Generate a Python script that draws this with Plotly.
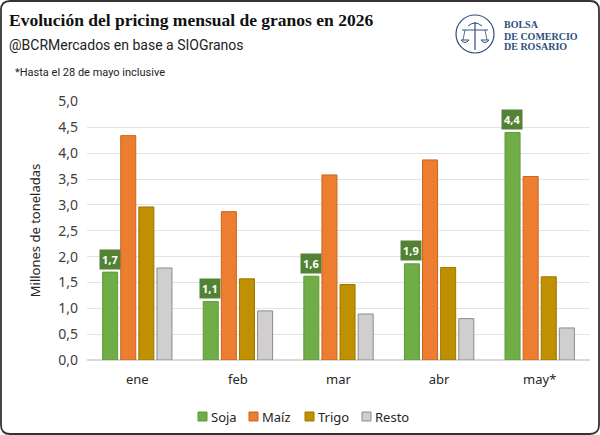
import plotly.graph_objects as go

meses = ["ene", "feb", "mar", "abr", "may*"]
soja = [1.70, 1.13, 1.62, 1.86, 4.40]
maiz = [4.34, 2.87, 3.58, 3.87, 3.55]
trigo = [2.96, 1.57, 1.46, 1.79, 1.61]
resto = [1.78, 0.95, 0.89, 0.80, 0.62]
soja_labels = ["1,7", "1,1", "1,6", "1,9", "4,4"]
logo_lines = ["BOLSA", "DE COMERCIO", "DE ROSARIO"]

W, H = 600, 435
L, R, T, B = 87, 10, 101, 75
PW, PH = W - L - R, H - T - B

def px(x):
    return (x - L) / PW

def py(y):
    return 1 - (y - T) / PH

FONT = "Noto Sans"
series = [
    ("Soja", soja, "#70AD47", "#5E9A38"),
    ("Maíz", maiz, "#ED7D31", "#C9651F"),
    ("Trigo", trigo, "#BF9000", "#9E7700"),
    ("Resto", resto, "#D0CECE", "#8C8C8C"),
]

fig = go.Figure()
for name, vals, fill, line in series:
    fig.add_trace(go.Bar(
        name=name, x=meses, y=vals,
        marker=dict(color=fill, line=dict(color=line, width=1)),
        hoverinfo="skip", showlegend=False,
    ))

ann = []
for i, (v, lab) in enumerate(zip(soja, soja_labels)):
    ann.append(dict(
        x=i - 0.275, y=v, xref="x", yref="y", text="<b>" + lab + "</b>",
        showarrow=False, yshift=13, bgcolor="#548235",
        font=dict(family=FONT, size=11, color="white"),
        borderpad=2,
    ))

# titles
ann += [
    dict(x=px(7), y=py(20), xref="paper", yref="paper", xanchor="left", yanchor="middle",
         text="<b>Evolución del pricing mensual de granos en 2026</b>", showarrow=False,
         font=dict(family="Liberation Serif", size=17.5, color="#111111")),
    dict(x=px(7), y=py(45), xref="paper", yref="paper", xanchor="left", yanchor="middle",
         text="@BCRMercados en base a SIOGranos", showarrow=False,
         font=dict(family="Roboto", size=14, color="#222222")),
    dict(x=px(13), y=py(72), xref="paper", yref="paper", xanchor="left", yanchor="middle",
         text="*Hasta el 28 de mayo inclusive", showarrow=False,
         font=dict(family="Roboto", size=11, color="#222222")),
]
navy = "#2E4E7E"
for k, t in enumerate(logo_lines):
    ann.append(dict(x=px(503), y=py(25 + 11 * k), xref="paper", yref="paper",
                    xanchor="left", yanchor="middle", text="<b>" + t + "</b>", showarrow=False,
                    height=9, valign="middle", borderpad=0,
                    font=dict(family="Liberation Serif", size=10, color=navy)))

def rounded_rect(x0, y0, x1, y1, r):
    return (f"M {px(x0 + r)},{py(y0)} L {px(x1 - r)},{py(y0)} "
            f"Q {px(x1)},{py(y0)} {px(x1)},{py(y0 + r)} "
            f"L {px(x1)},{py(y1 - r)} Q {px(x1)},{py(y1)} {px(x1 - r)},{py(y1)} "
            f"L {px(x0 + r)},{py(y1)} Q {px(x0)},{py(y1)} {px(x0)},{py(y1 - r)} "
            f"L {px(x0)},{py(y0 + r)} Q {px(x0)},{py(y0)} {px(x0 + r)},{py(y0)} Z")

shapes = [
    dict(type="path", xref="paper", yref="paper", path=rounded_rect(1, 1, 599, 434, 9),
         line=dict(color="#333333", width=1.8), layer="above"),
    dict(type="circle", xref="paper", yref="paper", x0=px(456), x1=px(494), y0=py(53), y1=py(15),
         line=dict(color=navy, width=1.2)),
    dict(type="line", xref="paper", yref="paper", x0=px(475), x1=px(475), y0=py(22), y1=py(50),
         line=dict(color=navy, width=1.2)),
    dict(type="line", xref="paper", yref="paper", x0=px(462), x1=px(488), y0=py(30), y1=py(30),
         line=dict(color=navy, width=1)),
    dict(type="path", xref="paper", yref="paper",
         path=f"M {px(461)},{py(40)} Q {px(465)},{py(45)} {px(469)},{py(40)} Z",
         line=dict(color=navy, width=1)),
    dict(type="path", xref="paper", yref="paper",
         path=f"M {px(481)},{py(40)} Q {px(485)},{py(45)} {px(489)},{py(40)} Z",
         line=dict(color=navy, width=1)),
    dict(type="line", xref="paper", yref="paper", x0=px(465), x1=px(463), y0=py(30), y1=py(40),
         line=dict(color=navy, width=0.8)),
    dict(type="line", xref="paper", yref="paper", x0=px(485), x1=px(487), y0=py(30), y1=py(40),
         line=dict(color=navy, width=0.8)),
    dict(type="path", xref="paper", yref="paper",
         path=f"M {px(468)},{py(26)} Q {px(475)},{py(20)} {px(482)},{py(26)}",
         line=dict(color=navy, width=1)),
]

# compact legend (squares + labels)
leg_x = [198, 249, 305, 362]
for (name, vals, fill, line), lx in zip(series, leg_x):
    shapes.append(dict(type="rect", xref="paper", yref="paper",
                       x0=px(lx), x1=px(lx + 9), y0=py(412), y1=py(421),
                       fillcolor=fill, line=dict(color=line, width=1)))
    ann.append(dict(x=px(lx + 11), y=py(416.5), xref="paper", yref="paper",
                    xanchor="left", yanchor="middle", text=name, showarrow=False,
                    font=dict(family=FONT, size=13, color="#262626")))

fig.update_layout(
    width=W, height=H,
    margin=dict(l=L, r=R, t=T, b=B, autoexpand=False),
    paper_bgcolor="white", plot_bgcolor="white",
    separators=",.",
    barmode="group", bargap=0.28, bargroupgap=0.17,
    font=dict(family=FONT, color="#404040"),
    showlegend=False,
    xaxis=dict(showline=False, ticks="", tickfont=dict(size=13, color="#262626"),
               showgrid=False, zeroline=False, ticklabelstandoff=10),
    yaxis=dict(range=[0, 5.01], dtick=0.5, tickformat=".1f", showgrid=True,
               gridcolor="#E3E3E3", gridwidth=1.2, zeroline=True, zerolinecolor="#D9D9D9",
               zerolinewidth=1.5, tickfont=dict(size=14, color="#404040"), ticks="",
               ticklabelstandoff=8,
               title=dict(text="Millones de toneladas", font=dict(size=13, color="#262626"), standoff=14)),
    annotations=ann, shapes=shapes,
)

fig.write_html("out.html")
